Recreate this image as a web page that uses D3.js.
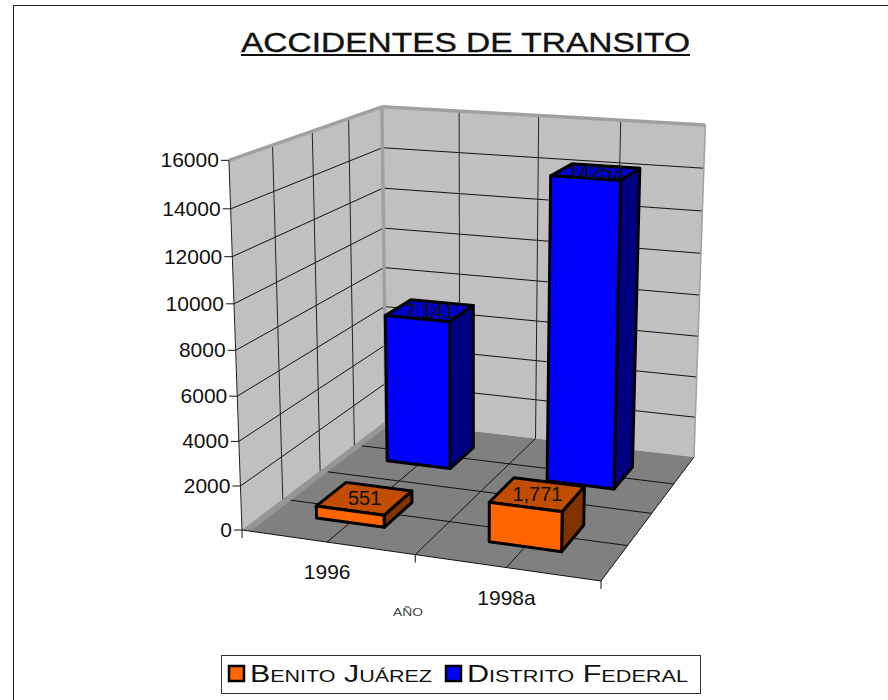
<!DOCTYPE html>
<html>
<head>
<meta charset="utf-8">
<script src="https://cdn.jsdelivr.net/npm/d3@7/dist/d3.min.js"></script>
<style>
  html, body { margin: 0; padding: 0; background: #fff; overflow: hidden; }
  text { font-family: "Liberation Sans", Arial, sans-serif; fill: #111; }
  .caps { font-variant: small-caps; }
</style>
</head>
<body>
<svg id="chart" width="888" height="700"></svg>
<script>
const categories = ['1996', '1998a'];
const seriesNames = ['Benito Juárez', 'Distrito Federal'];
const benitoJuarez = [551, 1771];
const distritoFederal = [7141, 14253];
const benitoLabels = ['551', '1,771'];
const distritoLabels = ['7,141', '14253'];
const valueTicks = [0, 2000, 4000, 6000, 8000, 10000, 12000, 14000, 16000];
const gridSteps = [0.25, 0.5, 0.75];

const colors = {
  'Benito Juárez': { front: '#ff6600', top: '#c04d00', side: '#803300' },
  'Distrito Federal': { front: '#0000ff', top: '#0000c0', side: '#000080' }
};

// screen position of the plot box corners, used to set up the perspective
const floorFL = [242, 530], floorFR = [601, 581], floorBR = [694, 457], floorBL = [386, 421];
const topCorners = [[0, 0, [228, 160]], [0, 1, [383, 107]], [1, 1, [705, 125]]];

function makeProjection() {
  const [x0, y0] = floorFL, [x1, y1] = floorFR, [x2, y2] = floorBR, [x3, y3] = floorBL;
  const dx1 = x1 - x2, dx2 = x3 - x2, sx = x0 - x1 + x2 - x3;
  const dy1 = y1 - y2, dy2 = y3 - y2, sy = y0 - y1 + y2 - y3;
  const den = dx1 * dy2 - dx2 * dy1;
  const g = (sx * dy2 - dx2 * sy) / den;
  const h = (dx1 * sy - sx * dy1) / den;
  const a = x1 - x0 + g * x1, b = x3 - x0 + h * x3;
  const d = y1 - y0 + g * y1, e = y3 - y0 + h * y3;
  // height column, least squares over the top corners of the walls
  const n = topCorners.length;
  let sX = 0, sY = 0, sXX = 0, sRx = 0, sRy = 0, sXR = 0;
  topCorners.forEach(([u, v, [X, Y]]) => {
    const q = 1 + g * u + h * v;
    const rx = X * q - (x0 + a * u + b * v);
    const ry = Y * q - (y0 + d * u + e * v);
    sX += X; sY += Y; sXX += X * X + Y * Y;
    sRx += rx; sRy += ry; sXR += X * rx + Y * ry;
  });
  const wz = ((sX * sRx + sY * sRy) / n - sXR) / (sXX - (sX * sX + sY * sY) / n);
  const cx = (sRx + wz * sX) / n;
  const cy = (sRy + wz * sY) / n;
  return (u, v, w) => {
    const q = 1 + g * u + h * v + wz * w;
    return [(x0 + a * u + b * v + cx * w) / q, (y0 + d * u + e * v + cy * w) / q];
  };
}
const project = makeProjection();

const xScale = d3.scaleBand().domain(categories).range([0, 1]).paddingInner(0.6).paddingOuter(0.3);
const depthScale = d3.scaleBand().domain(seriesNames).range([0, 1]).paddingInner(0.6).paddingOuter(0.3);
const valueScale = d3.scaleLinear().domain([0, 16000]).range([0, 1]);

const svg = d3.select('#chart');
const poly = d3.line().curve(d3.curveLinearClosed);
const seg = d3.line();

function face(g, pts, fill, stroke, width) {
  g.append('path').attr('d', poly(pts.map(p => project(...p))))
    .attr('fill', fill).attr('stroke', stroke || 'none').attr('stroke-width', width || 0)
    .attr('stroke-linejoin', 'round');
}
function edge(g, a, b, stroke, width) {
  g.append('path').attr('d', seg([project(...a), project(...b)]))
    .attr('fill', 'none').attr('stroke', stroke).attr('stroke-width', width);
}

// outer frame
svg.append('rect').attr('x', 13.5).attr('y', 5.5).attr('width', 900).attr('height', 720)
  .attr('fill', '#fff').attr('stroke', '#222').attr('stroke-width', 1);

// title
svg.append('text').attr('x', 241).attr('y', 52)
  .attr('textLength', 449).attr('lengthAdjust', 'spacingAndGlyphs')
  .attr('font-size', 28).attr('stroke', '#111').attr('stroke-width', 0.4)
  .text('ACCIDENTES DE TRANSITO');
svg.append('rect').attr('x', 241).attr('y', 54).attr('width', 449).attr('height', 2).attr('fill', '#111');

// walls and floor
const walls = svg.append('g');
face(walls, [[0, 1, 0], [1, 1, 0], [1, 1, 1], [0, 1, 1]], '#c0c0c0');
face(walls, [[0, 0, 0], [0, 1, 0], [0, 1, 1], [0, 0, 1]], '#c0c0c0');
face(walls, [[0, 0, 0], [1, 0, 0], [1, 1, 0], [0, 1, 0]], '#808080');
face(walls, [[0, 0, 0], [0.025, 0, 0], [0.025, 1, 0], [0, 1, 0]], '#969696');

// grid lines
const grid = svg.append('g');
valueTicks.slice(1, -1).forEach(t => {
  const w = valueScale(t);
  edge(grid, [0, 0, w], [0, 1, w], '#111', 1);
  edge(grid, [0, 1, w], [1, 1, w], '#111', 1);
});
gridSteps.forEach(s => {
  edge(grid, [s, 1, 0], [s, 1, 1], '#222', 1);
  edge(grid, [0, s, 0], [0, s, 1], '#222', 1);
  edge(grid, [s, 0, 0], [s, 1, 0], '#111', 1);
  edge(grid, [0.025, s, 0], [1, s, 0], '#111', 1);
});

// wall edges
edge(grid, [0, 0, 1], [0, 1, 1], '#a0a0a0', 3.5);
edge(grid, [0, 1, 1], [1, 1, 1], '#a0a0a0', 3.5);
edge(grid, [0, 1, 0], [0, 1, 1], '#a0a0a0', 3.5);
edge(grid, [1, 1, 0], [1, 1, 1], '#a0a0a0', 1.5);
edge(grid, [0, 0, 0], [0, 0, 1], '#222', 1);

// axes
const axes = svg.append('g');
edge(axes, [0, 0, 0], [1, 0, 0], '#111', 1);
edge(axes, [1, 0, 0], [1, 1, 0], '#111', 1);
valueTicks.forEach(t => {
  const [px, py] = project(0, 0, valueScale(t));
  axes.append('line').attr('x1', px - 8).attr('x2', px).attr('y1', py).attr('y2', py)
    .attr('stroke', '#111').attr('stroke-width', 1);
  axes.append('text').attr('x', px - 10).attr('y', py + 7)
    .attr('text-anchor', 'end').attr('font-size', 21).text(t);
});
[0, 0.5, 1].forEach(u => {
  const [px, py] = project(u, 0, 0);
  axes.append('line').attr('x1', px).attr('x2', px).attr('y1', py).attr('y2', py + 8)
    .attr('stroke', '#111').attr('stroke-width', 1);
});
categories.forEach(c => {
  const [px, py] = project(xScale(c) + xScale.bandwidth() / 2, 0, 0);
  axes.append('text').attr('x', px).attr('y', py + 37)
    .attr('text-anchor', 'middle').attr('font-size', 21).text(c);
});
svg.append('text').attr('class', 'caps').attr('x', 393).attr('y', 616)
  .attr('textLength', 30).attr('lengthAdjust', 'spacingAndGlyphs')
  .attr('font-size', 16).style('fill', '#444').text('año');

// bars, back row first
function drawBar(name, category, value, label) {
  const u0 = xScale(category), u1 = u0 + xScale.bandwidth();
  const v0 = depthScale(name), v1 = v0 + depthScale.bandwidth();
  const w = valueScale(value);
  const c = colors[name];
  const g = svg.append('g');
  face(g, [[u1, v0, 0], [u1, v1, 0], [u1, v1, w], [u1, v0, w]], c.side, '#000', 3);
  face(g, [[u0, v0, w], [u1, v0, w], [u1, v1, w], [u0, v1, w]], c.top, '#000', 3);
  face(g, [[u0, v0, 0], [u1, v0, 0], [u1, v0, w], [u0, v0, w]], c.front, '#000', 3);
  const [lx, ly] = project((u0 + u1) / 2, (v0 + v1) / 2, w);
  g.append('text').attr('x', lx).attr('y', ly + 7)
    .attr('text-anchor', 'middle').attr('font-size', 20).text(label);
}
categories.forEach((c, i) => drawBar('Distrito Federal', c, distritoFederal[i], distritoLabels[i]));
categories.forEach((c, i) => drawBar('Benito Juárez', c, benitoJuarez[i], benitoLabels[i]));

// legend
const legend = svg.append('g');
legend.append('rect').attr('x', 221.5).attr('y', 655.5).attr('width', 479).attr('height', 38)
  .attr('fill', '#fff').attr('stroke', '#333').attr('stroke-width', 1);
const legendSwatchX = [229, 446];
const legendTextX = [250, 467];
const legendTextLen = [182, 221];
seriesNames.forEach((name, i) => {
  legend.append('rect').attr('x', legendSwatchX[i]).attr('y', 666).attr('width', 15).attr('height', 15)
    .attr('fill', colors[name].front).attr('stroke', '#000').attr('stroke-width', 2.5);
  legend.append('text').attr('class', 'caps').attr('x', legendTextX[i]).attr('y', 682)
    .attr('textLength', legendTextLen[i]).attr('lengthAdjust', 'spacingAndGlyphs')
    .attr('font-size', 24).text(name);
});
</script>
</body>
</html>
